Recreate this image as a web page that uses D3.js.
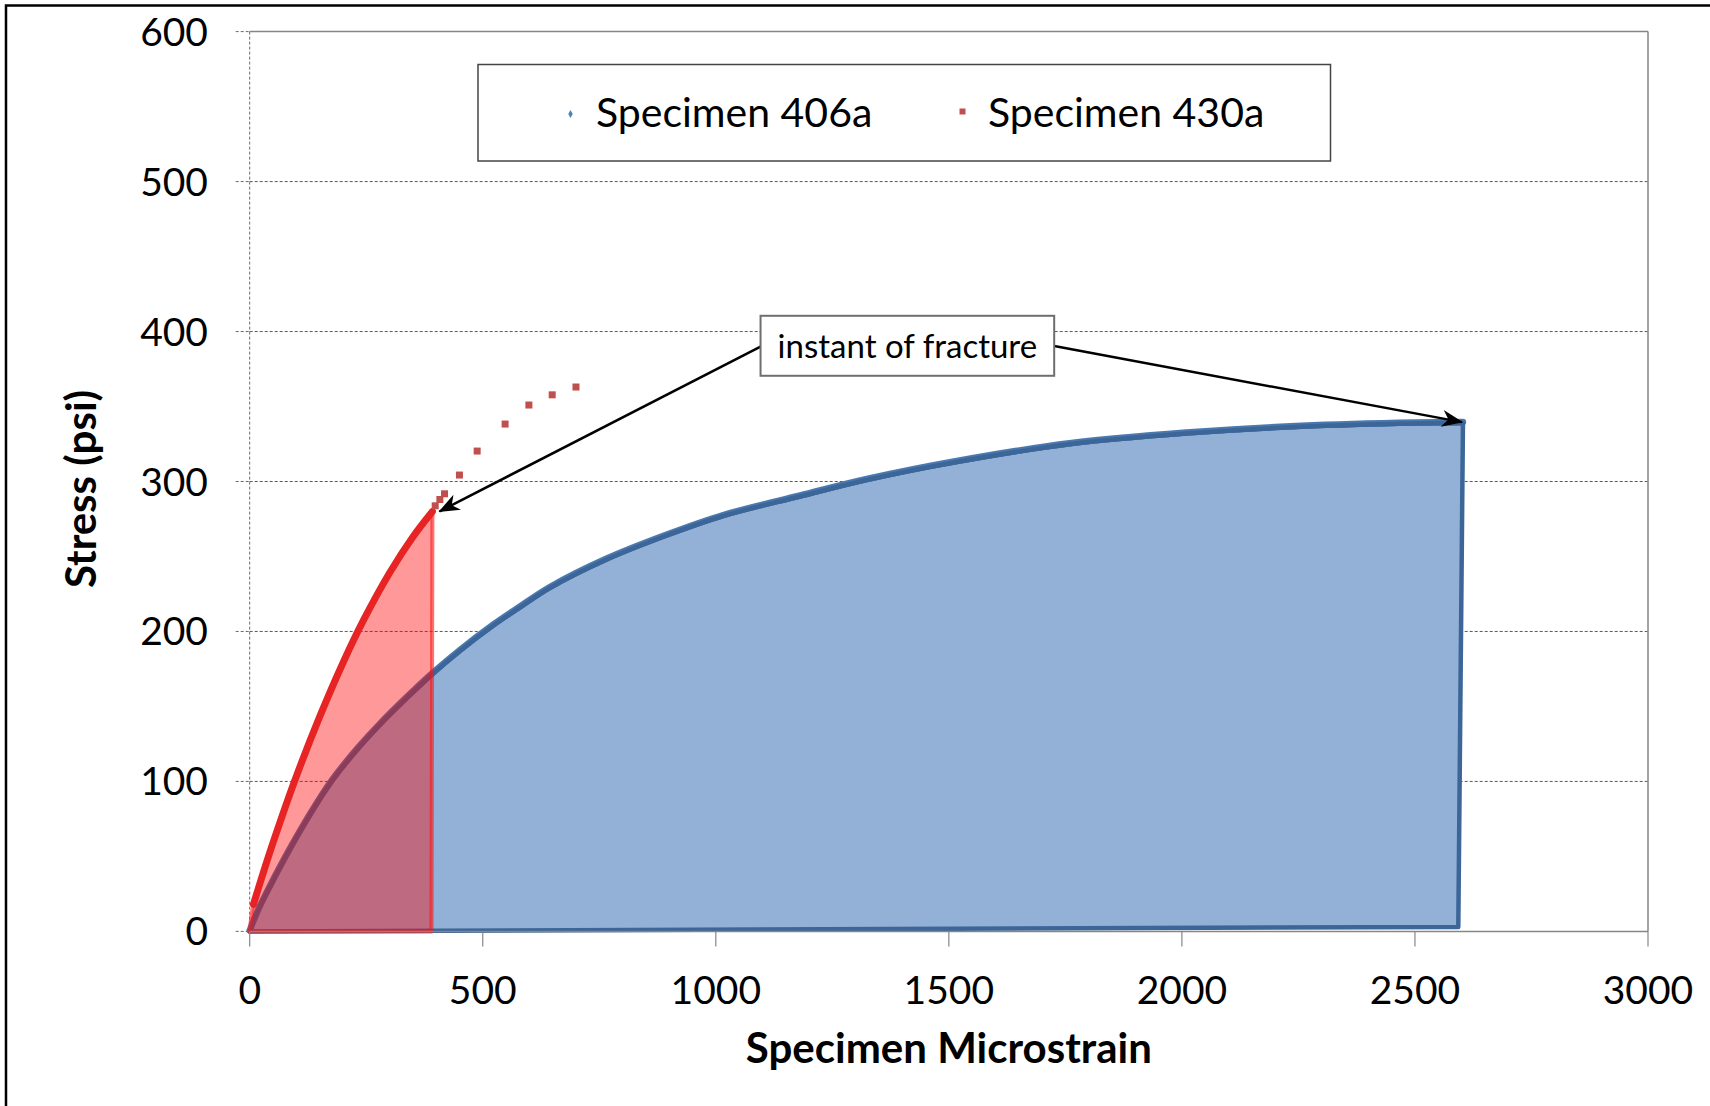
<!DOCTYPE html>
<html>
<head>
<meta charset="utf-8">
<script src="https://cdn.jsdelivr.net/npm/d3@7"></script>
<style>
  html, body { margin: 0; padding: 0; background: #fff; overflow: hidden; }
  svg { display: block; }
  text { font-family: Lato, "Open Sans", sans-serif; fill: #000; }
</style>
</head>
<body>
<svg id="chart" width="1710" height="1106"></svg>
<script>
// ---------------- data ----------------
const xTickValues = [0, 500, 1000, 1500, 2000, 2500, 3000];
const yTickValues = [0, 100, 200, 300, 400, 500, 600];
const seriesNames = ["Specimen 406a", "Specimen 430a"];

// Specimen 406a: stress–strain curve up to fracture  [microstrain, psi]
const curve406a = [
  [0, 0], [20, 15], [44, 30], [87, 55], [130, 78], [176, 100], [230, 121],
  [280, 138], [335, 155], [390, 171], [451, 187], [523, 204], [580, 216],
  [644, 229], [766, 248], [895, 264], [1016, 277], [1181, 290], [1324, 301],
  [1517, 313], [1763, 325], [2009, 332], [2256, 336.5], [2502, 338.7], [2603, 339]
];
// closing corners of the 406a energy area (drop at fracture, back to origin)
const close406a = [[2593, 3], [0, 0]];

// Specimen 430a: dense part of the curve up to fracture
const curve430a = [
  [8, 18], [30, 40], [51, 60], [96, 100], [150, 143], [200, 179],
  [245, 208], [300, 239], [350, 263], [392, 280]
];
const close430a = [[390, 0], [0, 0]];
// Specimen 430a: sparse points recorded after the fracture instant
const post430a = [
  [398, 283.8], [408, 288], [418, 291.8], [450, 304.3], [488, 320.3],
  [548, 338.3], [599, 351], [649, 357.8], [700, 363]
];

// annotation
const noteText = "instant of fracture";
const noteBox = { x0: 1096, x1: 1726, y0: 370.5, y1: 410.5 };
const noteArrows = [
  { from: [1096, 390], to: [407, 280] },
  { from: [1726, 390.3], to: [2601, 339.6] }
];

// ---------------- layout ----------------
const svg = d3.select("#chart");
const L = 249.7, R = 1648, T = 31.6, B = 931.4;
const x = d3.scaleLinear().domain([0, 3000]).range([L, R]);
const y = d3.scaleLinear().domain([0, 600]).range([B, T]);

// outer frame
svg.append("rect").attr("x", 6).attr("y", 5.5).attr("width", 1800).attr("height", 1200)
  .attr("fill", "#fff").attr("stroke", "#000").attr("stroke-width", 2.5);

// gridlines
svg.append("g").selectAll("line").data(yTickValues.filter(d => d > 0 && d < 600)).join("line")
  .attr("x1", L).attr("x2", R).attr("y1", d => y(d)).attr("y2", d => y(d))
  .attr("stroke", "#5a5a5a").attr("stroke-width", 1).attr("stroke-dasharray", "3,2");

// plot border: top + right solid, left dashed
svg.append("line").attr("x1", L).attr("x2", R).attr("y1", T).attr("y2", T)
  .attr("stroke", "#868686").attr("stroke-width", 1.5);
svg.append("line").attr("x1", R).attr("x2", R).attr("y1", T).attr("y2", B)
  .attr("stroke", "#868686").attr("stroke-width", 1.5);
svg.append("line").attr("x1", L).attr("x2", L).attr("y1", T).attr("y2", B)
  .attr("stroke", "#6a6a6a").attr("stroke-width", 1).attr("stroke-dasharray", "3,2");

// ---------------- areas ----------------
const smooth = d3.line().x(d => x(d[0])).y(d => y(d[1])).curve(d3.curveCatmullRom.alpha(0.5));
function areaPath(curve, corners) {
  return smooth(curve) + corners.map(p => "L" + x(p[0]) + "," + y(p[1])).join("") + "Z";
}

svg.append("path").attr("d", areaPath(curve406a, close406a))
  .attr("fill", "#93b1d7").attr("stroke", "#3c6598").attr("stroke-width", 4.5)
  .attr("stroke-linejoin", "round");
// the curve edge of 406a is drawn a bit heavier (dense markers)
svg.append("path").attr("d", smooth(curve406a))
  .attr("fill", "none").attr("stroke", "#4a78b0").attr("stroke-width", 6.5)
  .attr("transform", "translate(0,-1)").attr("stroke-linecap", "round");
svg.append("path").attr("d", smooth(curve406a))
  .attr("fill", "none").attr("stroke", "#3c6598").attr("stroke-width", 4.5)
  .attr("stroke-linecap", "round");

svg.append("path").attr("d", areaPath([[0, 0]].concat(curve430a), close430a))
  .attr("fill", "rgba(255,0,0,0.4)").attr("stroke", "rgba(255,20,20,0.6)").attr("stroke-width", 4)
  .attr("stroke-linejoin", "round");

svg.append("path").attr("d", smooth(curve430a))
  .attr("fill", "none").attr("stroke", "#e82323").attr("stroke-width", 7)
  .attr("stroke-linecap", "round").attr("stroke-linejoin", "round");

// post-fracture markers
svg.append("g").selectAll("rect").data(post430a).join("rect")
  .attr("x", d => x(d[0]) - 3.5).attr("y", d => y(d[1]) - 3.5)
  .attr("width", 7).attr("height", 7).attr("fill", "#c0504d");

// ---------------- axes ----------------
svg.append("line").attr("x1", L).attr("x2", R).attr("y1", B).attr("y2", B)
  .attr("stroke", "#868686").attr("stroke-width", 1.5);
svg.append("g").selectAll("line").data(xTickValues).join("line")
  .attr("x1", d => x(d)).attr("x2", d => x(d)).attr("y1", B).attr("y2", B + 15)
  .attr("stroke", "#868686").attr("stroke-width", 1.2);
svg.append("g").selectAll("text").data(xTickValues).join("text")
  .attr("x", d => x(d)).attr("y", 1004).attr("text-anchor", "middle")
  .style("font-size", "39px").text(d => d);

svg.append("g").selectAll("line").data(yTickValues).join("line")
  .attr("x1", L - 14).attr("x2", L).attr("y1", d => y(d)).attr("y2", d => y(d))
  .attr("stroke", "#6a6a6a").attr("stroke-width", 1).attr("stroke-dasharray", "3,2");
svg.append("g").selectAll("text").data(yTickValues).join("text")
  .attr("x", 208).attr("y", d => y(d) + 14).attr("text-anchor", "end")
  .style("font-size", "39px").text(d => d);

// axis titles
svg.append("text").attr("x", (L + R) / 2).attr("y", 1063).attr("text-anchor", "middle")
  .style("font-size", "42px").style("font-weight", "bold").text("Specimen Microstrain");
svg.append("text").attr("transform", "translate(96,489) rotate(-90)").attr("text-anchor", "middle")
  .style("font-size", "42px").style("font-weight", "bold").text("Stress (psi)");

// ---------------- annotation ----------------
const defs = svg.append("defs");
defs.append("marker").attr("id", "arrow").attr("viewBox", "0 0 20 16")
  .attr("refX", 19).attr("refY", 8).attr("markerWidth", 22).attr("markerHeight", 17)
  .attr("markerUnits", "userSpaceOnUse").attr("orient", "auto")
  .append("path").attr("d", "M0,0 L20,8 L0,16 L6,8 Z").attr("fill", "#000");

svg.append("g").selectAll("line").data(noteArrows).join("line")
  .attr("x1", d => x(d.from[0])).attr("y1", d => y(d.from[1]))
  .attr("x2", d => x(d.to[0])).attr("y2", d => y(d.to[1]))
  .attr("stroke", "#000").attr("stroke-width", 2.5).attr("marker-end", "url(#arrow)");

svg.append("rect").attr("x", x(noteBox.x0)).attr("y", y(noteBox.y1))
  .attr("width", x(noteBox.x1) - x(noteBox.x0)).attr("height", y(noteBox.y0) - y(noteBox.y1))
  .attr("fill", "#fff").attr("stroke", "#6e6e6e").attr("stroke-width", 2);
svg.append("text").attr("x", (x(noteBox.x0) + x(noteBox.x1)) / 2).attr("y", 358)
  .attr("text-anchor", "middle").style("font-size", "33px").text(noteText);

// ---------------- legend ----------------
const lg = svg.append("g");
lg.append("rect").attr("x", 478).attr("y", 64.5).attr("width", 852.5).attr("height", 96.5)
  .attr("fill", "#fff").attr("stroke", "#444").attr("stroke-width", 1.5);
lg.append("path").attr("d", d3.symbol().type(d3.symbolDiamond).size(18)())
  .attr("transform", "translate(570.5,114)").attr("fill", "#4f81bd");
lg.append("rect").attr("x", 959.5).attr("y", 108.5).attr("width", 6).attr("height", 6).attr("fill", "#c0504d");
lg.append("text").attr("x", 596).attr("y", 127.3).style("font-size", "41px").text(seriesNames[0]);
lg.append("text").attr("x", 988).attr("y", 127.3).style("font-size", "41px").text(seriesNames[1]);
</script>
</body>
</html>
